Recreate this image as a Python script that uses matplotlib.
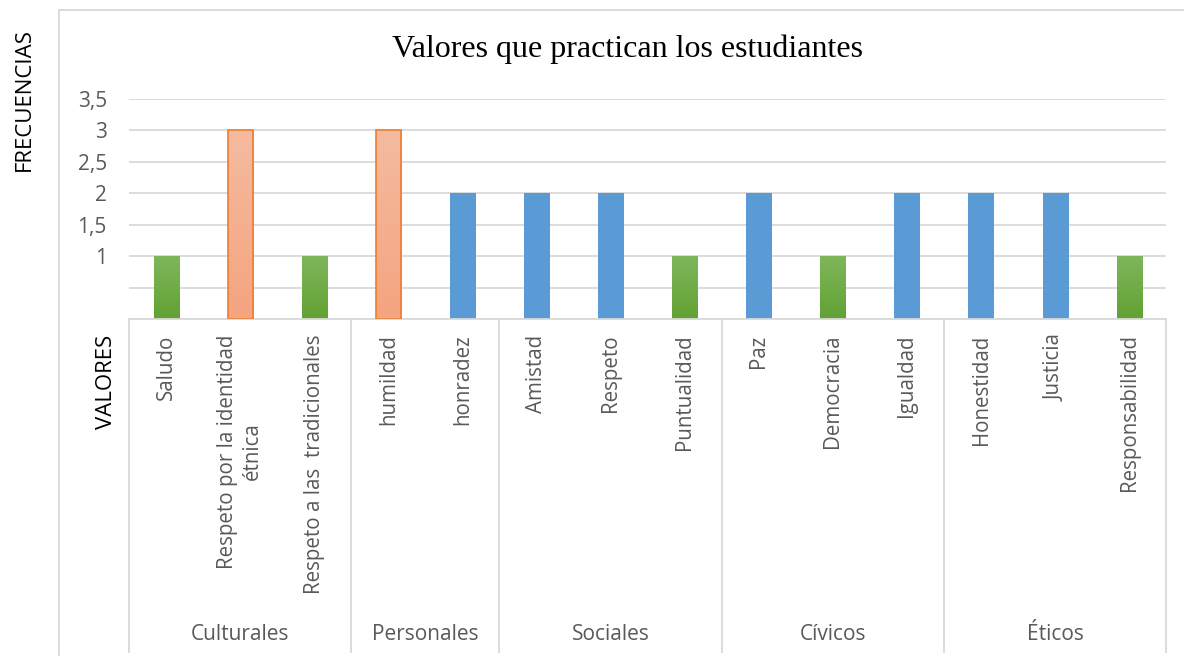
import numpy as np
import matplotlib
matplotlib.use('Agg')
import matplotlib.pyplot as plt
from matplotlib.lines import Line2D
from matplotlib.colors import LinearSegmentedColormap

# Data
valores = ['Saludo', 'Respeto por la identidad\nétnica', 'Respeto a las  tradicionales',
           'humildad', 'honradez',
           'Amistad', 'Respeto', 'Puntualidad',
           'Paz', 'Democracia', 'Igualdad',
           'Honestidad', 'Justicia', 'Responsabilidad']
frecuencias = [1, 3, 1, 3, 2, 2, 2, 1, 2, 1, 2, 2, 2, 1]
grupos = ['Culturales', 'Personales', 'Sociales', 'Cívicos', 'Éticos']
tam_grupos = [3, 2, 3, 3, 3]
yticks = [0, 0.5, 1, 1.5, 2, 2.5, 3, 3.5]
ytick_labels = ['', '', '1', '1,5', '2', '2,5', '3', '3,5']

plt.rcParams['font.family'] = ['Open Sans', 'DejaVu Sans']

grid_col = '#D9D9D9'
text_col = '#595959'

# bar styles by frequency: (top colour, bottom colour, edge)
estilos = {
    1: ('#7EB65B', '#62A234', None),
    2: ('#5B9BD5', '#5B9BD5', None),
    3: ('#F5BBA0', '#F4A47F', '#ED7D31'),
}

fig = plt.figure(figsize=(11.84, 6.56), dpi=100)
ax = fig.add_axes([0.109, 0.5137, 0.876, 0.3354])

x = np.arange(len(valores))
ancho = 0.34
barras = ax.bar(x, frecuencias, width=ancho, color='none', zorder=3)

# fill every bar with a soft vertical gradient
for b, v in zip(barras, frecuencias):
    top, bot, edge = estilos[v]
    cmap = LinearSegmentedColormap.from_list('g', [bot, top])
    grad = np.linspace(0, 1, 100).reshape(-1, 1)
    x0 = b.get_x()
    ax.imshow(grad, cmap=cmap, origin='lower', aspect='auto',
              extent=[x0, x0 + b.get_width(), 0, b.get_height()], zorder=2)
    if edge:
        b.set_edgecolor(edge)
        b.set_linewidth(1.2)

ax.set_xlim(-0.5, len(valores) - 0.5)
ax.set_ylim(0, 3.5)
ax.set_yticks(yticks)
ax.set_yticklabels(ytick_labels, color=text_col, fontsize=15)
ax.tick_params(axis='y', length=0, pad=16)
ax.set_xticks([])
ax.grid(axis='y', color=grid_col, linewidth=1.3, zorder=0)
for s in ['top', 'right', 'left']:
    ax.spines[s].set_visible(False)
ax.spines['bottom'].set_color(grid_col)
ax.spines['bottom'].set_linewidth(1.3)

# category labels, rotated and hanging from the axis
for xi, nombre in zip(x, valores):
    ax.text(xi, -0.07, nombre, rotation=90, ha='center', va='top', ma='center',
            transform=ax.get_xaxis_transform(), color=text_col, fontsize=14.8,
            linespacing=1.25)

# group separators and group names
trans = ax.get_xaxis_transform()
bordes = np.concatenate([[0], np.cumsum(tam_grupos)]) - 0.5
for b in bordes:
    ax.add_line(Line2D([b, b], [0, -1.514], transform=trans, color=grid_col,
                       linewidth=1.3, clip_on=False))
for g, i0, i1 in zip(grupos, bordes[:-1], bordes[1:]):
    ax.text((i0 + i1) / 2, -1.432, g, ha='center', va='center', transform=trans,
            color=text_col, fontsize=15)

# title and axis titles
fig.text(0.53, 0.925, 'Valores que practican los estudiantes', ha='center', va='center',
         fontsize=23, family='Liberation Serif', color='black')
fig.text(0.021, 0.848, 'FRECUENCIAS', rotation=90, ha='center', va='center',
         fontsize=16, color='black')
ax.text(-0.022, -0.07, 'VALORES', rotation=90, ha='center', va='top',
        transform=ax.transAxes, fontsize=16, color='black')

# outer chart frame (left and top edges)
fig.add_artist(Line2D([59 / 1184, 59 / 1184], [0, 1 - 10 / 656], color=grid_col, linewidth=1.3))
fig.add_artist(Line2D([59 / 1184, 1], [1 - 10 / 656, 1 - 10 / 656], color=grid_col, linewidth=1.3))

fig.savefig('out.png', dpi=100, facecolor='white')
